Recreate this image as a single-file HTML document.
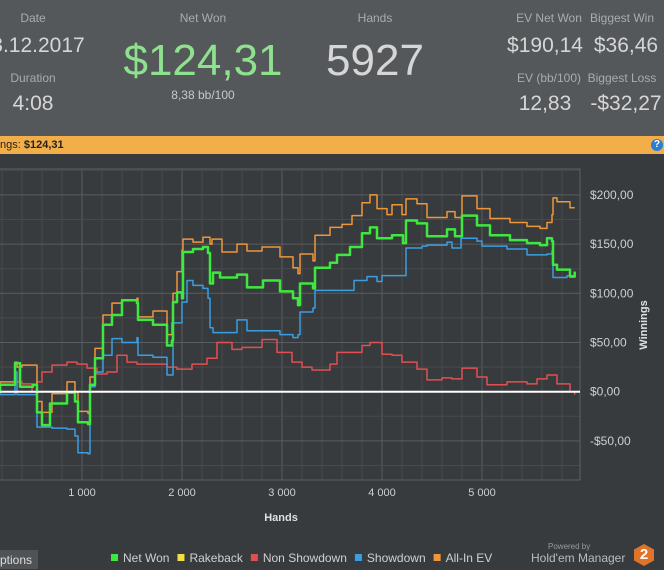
<!DOCTYPE html>
<html><head><meta charset="utf-8">
<style>
body{margin:0;width:664px;height:569px;overflow:hidden;background:#383b3e;font-family:"Liberation Sans",sans-serif;position:relative}
.hdr{position:absolute;left:0;top:0;width:664px;height:136px;background:#55585b}
.t{position:absolute;white-space:nowrap;transform:translateX(-50%)}
.lab{color:#a9abad;font-size:12px}
.big{color:#d6d6d6;font-size:21px}
.bar{position:absolute;left:0;top:136px;width:664px;height:18px;background:#f2ae48}
</style></head><body>
<div class="hdr">
<div class="t lab" style="left:33px;top:11px">Date</div>
<div class="t big" style="left:38px;top:34px">3.12.2017</div>
<div class="t lab" style="left:33px;top:71px">Duration</div>
<div class="t big" style="left:33px;top:92px">4:08</div>
<div class="t lab" style="left:203px;top:11px">Net Won</div>
<div class="t" style="left:203px;top:36px;font-size:44px;color:#8ee28e">$124,31</div>
<div class="t lab" style="left:203px;top:88px;color:#c8c8c8">8,38 bb/100</div>
<div class="t lab" style="left:375px;top:11px">Hands</div>
<div class="t" style="left:375px;top:36px;font-size:44px;color:#d6d6d6">5927</div>
<div class="t lab" style="left:549px;top:11px">EV Net Won</div>
<div class="t big" style="left:545px;top:34px">$190,14</div>
<div class="t lab" style="left:622px;top:11px">Biggest Win</div>
<div class="t big" style="left:626px;top:34px">$36,46</div>
<div class="t lab" style="left:549px;top:71px">EV (bb/100)</div>
<div class="t big" style="left:545px;top:92px">12,83</div>
<div class="t lab" style="left:622px;top:71px">Biggest Loss</div>
<div class="t big" style="left:626px;top:92px">-$32,27</div>
</div>
<div class="bar">
<span style="position:absolute;left:0;top:3px;font-size:11px;color:#222">ngs: <b>$124,31</b></span>
<div style="position:absolute;left:651px;top:3px;width:12px;height:12px;border-radius:50%;background:#2a7fd0;color:#fff;font-size:10px;font-weight:bold;text-align:center;line-height:12px">?</div>
</div>
<svg id="ch" width="664" height="415" style="position:absolute;left:0;top:154px"></svg>
<div style="position:absolute;left:0;top:550px;width:38px;height:19px;background:#505356;color:#ddd;font-size:12px;line-height:20px">ptions</div>
<div style="position:absolute;left:548px;top:542px;font-size:8px;color:#999">Powered by</div>
<div style="position:absolute;left:531px;top:551px;font-size:12px;color:#bbb">Hold'em Manager</div>
<div style="position:absolute;left:634px;top:544px;width:20px;height:22px;background:#e0732a;clip-path:polygon(50% 0,100% 25%,100% 75%,50% 100%,0 75%,0 25%);color:#fff;font-weight:bold;font-size:15px;text-align:center;line-height:22px">2</div>
<script>
const yTicks=[200,150,100,50,0,-50];
const xTicks=[1000,2000,3000,4000,5000];
const netWonH=[0,180,330,380,510,550,600,680,850,930,960,1060,1080,1130,1210,1300,1400,1550,1560,1710,1850,1900,1910,1950,2000,2010,2110,2210,2260,2280,2310,2380,2550,2650,2810,2980,3110,3160,3180,3310,3330,3480,3550,3680,3800,3880,3950,4100,4210,4240,4350,4450,4650,4730,4800,4950,5080,5280,5450,5580,5650,5700,5710,5750,5880,5927];
const netWonV=[0,7,29,5,7,-21,-34,-12,-1,-10,-31,-33,7,34,68,78,93,90,73,68,47,52,91,101,95,142,145,147,141,110,121,116,119,106,113,102,95,88,110,105,126,131,139,147,161,167,156,159,151,174,171,158,165,158,179,169,159,154,151,149,156,153,129,124,117,122];
const allInH=[0,180,330,350,400,550,600,700,850,930,960,1060,1080,1130,1210,1300,1400,1550,1560,1710,1850,1900,1910,1950,2000,2010,2110,2210,2280,2300,2400,2550,2650,2800,2980,3110,3160,3180,3310,3330,3480,3600,3700,3800,3880,3950,4050,4100,4200,4240,4350,4450,4650,4730,4800,4950,5080,5280,5450,5580,5650,5700,5710,5750,5880,5927];
const allInV=[0,10,30,25,27,-10,-21,-2,10,0,-20,-22,15,44,78,90,93,95,76,82,58,70,100,122,144,155,152,157,150,155,142,150,143,147,137,126,120,140,133,159,167,170,179,192,200,186,180,190,180,196,191,177,183,177,199,186,176,172,168,166,172,180,197,193,187,187];
const showH=[0,180,330,350,500,550,700,850,930,960,1060,1080,1130,1210,1300,1400,1550,1560,1710,1850,1900,1910,1950,2000,2050,2110,2210,2260,2280,2310,2400,2550,2650,2800,2980,3110,3160,3180,3310,3330,3480,3700,3720,3850,3950,4000,4210,4240,4400,4450,4650,4700,4770,4790,4950,5000,5250,5450,5650,5700,5710,5850,5927];
const showV=[0,-3,20,-3,-3,-36,-37,-38,-45,-62,-63,5,20,37,54,50,55,37,35,17,17,70,70,91,113,108,105,95,65,60,60,73,62,62,58,55,58,81,85,103,103,103,113,117,112,118,118,146,148,149,152,146,146,156,153,148,145,139,140,143,116,118,122];
const nsdH=[0,180,330,400,500,550,600,700,850,950,1050,1150,1250,1350,1450,1550,1700,1850,1950,2100,2250,2350,2500,2600,2800,2950,3100,3200,3300,3480,3550,3650,3800,3880,4000,4100,4200,4350,4450,4600,4700,4800,4950,5050,5250,5450,5550,5650,5750,5880,5927];
const nsdV=[0,7,10,8,0,10,20,27,30,28,24,18,20,37,30,28,28,25,23,28,34,50,43,45,53,40,30,25,22,28,40,40,47,50,38,37,30,23,12,14,13,24,15,7,10,8,13,17,8,0,-3];
const legendNames=["Net Won","Rakeback","Non Showdown","Showdown","All-In EV"];
const legendColors=["#3ee83e","#f0e040","#e05050","#3a9ee0","#f0963a"];
const NS="http://www.w3.org/2000/svg";
const svg=document.getElementById('ch');
const T=15,B=326,L=0,R=580;
function X(h){return h*0.1-18;}
function Y(v){return 237.7-v*0.984;}
function el(tag,a){const e=document.createElementNS(NS,tag);for(const k in a)e.setAttribute(k,a[k]);svg.appendChild(e);return e;}
for(let h=0;h<=5900;h+=200){if(X(h)<L)continue;const g=el('line',{x1:X(h),x2:X(h),y1:T,y2:B,stroke:h%1000==0?'#5a5d60':'#47494c','stroke-width':1});

}
for(let v=-75;v<=225;v+=25){const y=Y(v);if(y<T||y>B)continue;const g=el('line',{x1:L,x2:R,y1:y,y2:y,stroke:v%50==0?'#5a5d60':'#47494c','stroke-width':1});

}
const fr=el('rect',{x:-1,y:T,width:R+1,height:B-T,fill:'none',stroke:'#5e6164'});


yTicks.forEach(v=>{const t=el('text',{x:590,y:Y(v)+4,fill:'#cfcfcf','font-size':12,'font-family':'Liberation Sans, sans-serif'});t.textContent=(v<0?'-$':'$')+Math.abs(v)+',00';

});
xTicks.forEach(h=>{const t=el('text',{x:X(h),y:342,fill:'#cfcfcf','font-size':11,'text-anchor':'middle','font-family':'Liberation Sans, sans-serif'});t.textContent=String(h).replace(/(\d)(\d{3})$/,'$1 $2');

});
const xt=el('text',{x:281,y:367,fill:'#e0e0e0','font-size':11,'font-weight':'bold','text-anchor':'middle','font-family':'Liberation Sans, sans-serif'});xt.textContent='Hands';


const yt=el('text',{x:0,y:0,fill:'#e0e0e0','font-size':11,'font-weight':'bold','text-anchor':'middle','transform':'translate(647,171) rotate(-90)','font-family':'Liberation Sans, sans-serif'});yt.textContent='Winnings';


function series(H,V,c,w,name){let d='';for(let i=0;i<H.length;i++){const x=X(H[i]),y=Y(V[i]);if(i==0)d+='M'+x+' '+y;else d+='H'+x+'V'+y;}
const p=el('path',{d:d,fill:'none',stroke:c,'stroke-width':w,'stroke-linejoin':'round'});

}
series(nsdH,nsdV,'#e05050',1.5,'non-showdown-line');
series(showH,showV,'#3a9ee0',1.5,'showdown-line');
series(allInH,allInV,'#f0963a',1.5,'all-in-ev-line');
series(netWonH,netWonV,'#3ee83e',2.5,'net-won-line');
const z=el('line',{x1:L,x2:R,y1:Y(0),y2:Y(0),stroke:'#ffffff','stroke-width':2});


let lx=111;
legendNames.forEach((n,i)=>{const r=el('rect',{x:lx,y:400,width:7,height:7,fill:legendColors[i]});


const t=el('text',{x:lx+12,y:408,fill:'#d0d0d0','font-size':12,'font-family':'Liberation Sans, sans-serif'});t.textContent=n;


lx+=12+t.getComputedTextLength()+8;});
</script>
</body></html>
